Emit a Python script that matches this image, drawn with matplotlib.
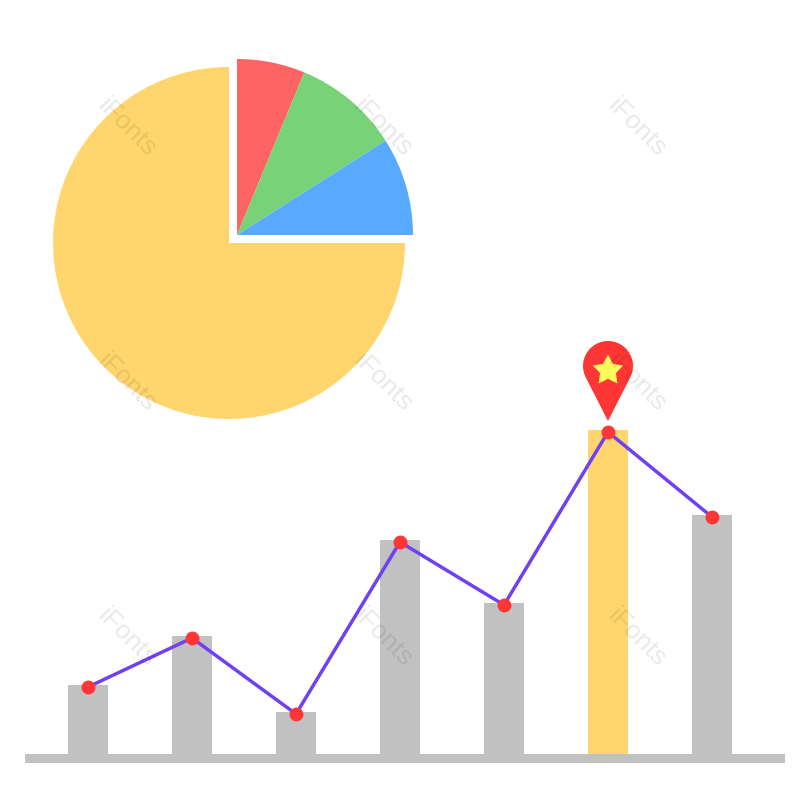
import numpy as np
import matplotlib
matplotlib.use('Agg')
import matplotlib.pyplot as plt
from matplotlib.path import Path
from matplotlib.patches import PathPatch
from matplotlib.transforms import Affine2D

# bar chart values
positions = [0, 1, 2, 3, 4, 5, 6]
bar_values = [69, 118, 42, 214, 151, 324, 239]
line_values = [67, 116, 40, 212, 149, 322, 237]
highlight = 5

# pie shares
big_share = [0.75]
small_shares = [0.0625, 0.0975, 0.09]

GRAY = '#C1C1C1'
YELLOW = '#FFD66E'
RED = '#FF3636'
PURPLE = '#7040F5'
small_colors = ['#FF6464', '#78D278', '#57AAFF']

plt.rcParams['font.family'] = ['Liberation Sans', 'DejaVu Sans']

fig = plt.figure(figsize=(8, 8), dpi=100, facecolor='white')

# bars and line, one y unit is one pixel
ax = fig.add_axes([0, 0, 1, 1])
ax.set_xlim(-88 / 104, 712 / 104)
ax.set_ylim(-46, 754)
ax.axis('off')

colors = [YELLOW if i == highlight else GRAY for i in positions]
ax.bar(positions, bar_values, width=40 / 104, color=colors, zorder=1)
ax.bar(3.048, -9, width=760 / 104, color=GRAY, zorder=1)  # floor
ax.plot(positions, line_values, color=PURPLE, lw=2.5, zorder=2)
ax.plot(positions, line_values, 'o', color=RED, ms=10, mew=0, zorder=3)

# map pin over the highlighted bar
r = 25
tip = 55
angle = np.degrees(np.arcsin(r / tip))
arc = Path.arc(-angle, 180 + angle)
verts = np.vstack([arc.vertices * r + [0, tip], [[0, 0], [0, 0]]])
codes = list(arc.codes) + [Path.LINETO, Path.CLOSEPOLY]
tip_xy = ax.transData.transform((highlight, line_values[highlight] + 11))
ax.add_patch(PathPatch(Path(verts, codes), facecolor=RED, edgecolor='none', zorder=4,
                       transform=Affine2D().translate(*tip_xy)))
star_xy = ax.transData.transform((highlight, line_values[highlight] + 61.5))
ax.add_patch(PathPatch(Path.unit_regular_star(5, innerCircle=0.52), facecolor='#FFFB5C', edgecolor='none', zorder=5,
                       transform=Affine2D().scale(16).translate(*star_xy)))

# pie on its own axes
ax_pie = fig.add_axes([0, 0, 1, 1])
ax_pie.patch.set_alpha(0)
ax_pie.pie(big_share, colors=[YELLOW], startangle=90, radius=176, center=(229, 557), normalize=False)
ax_pie.pie(small_shares, colors=small_colors, startangle=90, counterclock=False, radius=176,
           center=(237, 565), normalize=False)
ax_pie.set_xlim(0, 800)
ax_pie.set_ylim(0, 800)
ax_pie.axis('off')

# watermark
for wx in [127, 383, 637]:
    for wy in [127, 382, 637]:
        fig.text(wx / 800, 1 - wy / 800, 'iFonts', fontsize=19, color='#000000', alpha=0.09,
                 rotation=-45, ha='center', va='center', zorder=10)

fig.savefig('out.png', dpi=100, facecolor='white')
